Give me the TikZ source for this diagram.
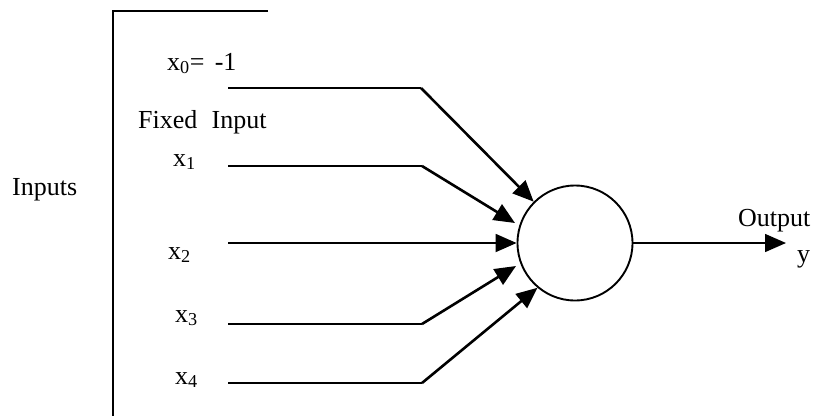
\documentclass[tikz,border=0pt]{standalone}
\usepackage{fontspec}
\setmainfont{Liberation Serif}
\usetikzlibrary{arrows.meta}
\newcommand{\subx}[1]{x\textsubscript{#1}}
\begin{document}
\begin{tikzpicture}[x=1pt,y=-1pt,
  lbl/.style={anchor=base west,inner sep=0pt,font=\fontsize{26}{30}\selectfont},
  hwire/.style={line width=1.9pt},
  dwire/.style={line width=2.6pt,-{Triangle[length=21pt,width=18pt]}},
  frame/.style={line width=1.7pt}]
\useasboundingbox (0,0) rectangle (817,416);
% frame
\coordinate (ftop) at (113,11);
\coordinate (fend) at (268,11);
\coordinate (fbot) at (113,416);
\draw[frame] (fend) -- (ftop) -- (fbot);
% labels
\node[lbl] (inputs) at (12,195) {Inputs};
\node[lbl] (fixed) at (138,128) {Fixed\hspace{0.55em}Input};
\node[lbl] (l0) at (167,70) {\subx{0}=\hspace{0.4em}-1};
\node[lbl] (l1) at (173,166) {\subx{1}};
\node[lbl] (l2) at (168,259) {\subx{2}};
\node[lbl] (l3) at (175,322) {\subx{3}};
\node[lbl] (l4) at (175,384) {\subx{4}};
\node[lbl] (out) at (738,226) {Output};
\node[lbl] (yl) at (797,262) {y};
% neuron
\node[circle,draw,line width=1.9pt,minimum size=115pt,inner sep=0pt] (n) at (575,243) {};
% input wires
\coordinate (s0) at (228,88);  \coordinate (b0) at (421,88);
\coordinate (s1) at (228,166); \coordinate (b1) at (422,166);
\coordinate (s2) at (228,243);
\coordinate (s3) at (228,324); \coordinate (b3) at (422,324);
\coordinate (s4) at (228,383); \coordinate (b4) at (422,383);
\coordinate (t1) at (515,223);
\coordinate (t3) at (516,266);
\draw[hwire] (s0) -- (b0);
\draw[dwire] (b0) -- (n.135);
\draw[hwire] (s1) -- (b1);
\draw[dwire] (b1) -- (t1);
\draw[hwire,-{Triangle[length=21pt,width=18pt]}] (s2) -- (n.west);
\draw[hwire] (s3) -- (b3);
\draw[dwire] (b3) -- (t3);
\draw[hwire] (s4) -- (b4);
\draw[dwire] (b4) -- (n.230);
% output
\coordinate (o) at (786,243);
\draw[line width=1.5pt,-{Triangle[length=21pt,width=18pt]}] (n.east) -- (o);
\end{tikzpicture}
\end{document}
